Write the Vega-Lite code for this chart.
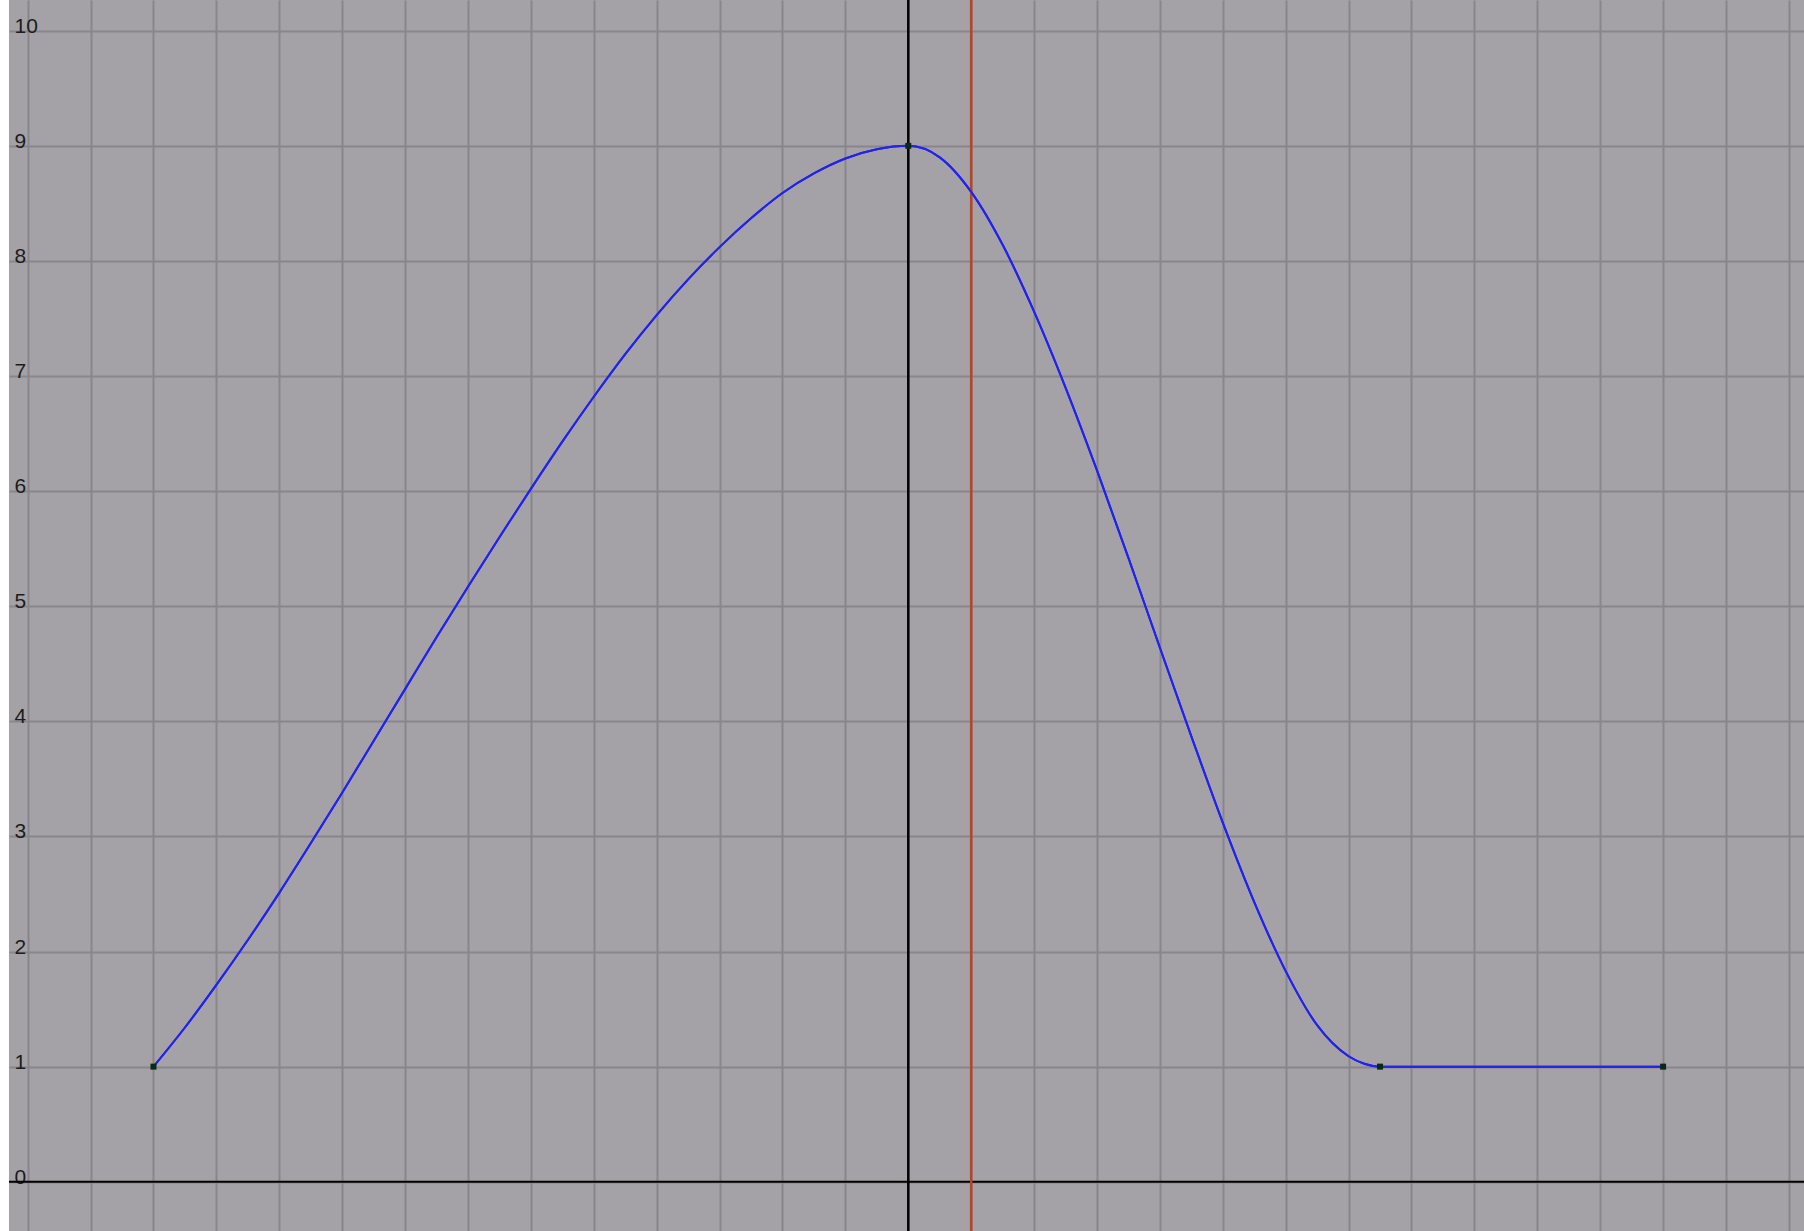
{
  "$schema": "https://vega.github.io/schema/vega-lite/v6.json",
  "width": 1795,
  "height": 1231,
  "autosize": {"type": "none"},
  "padding": {"left": 9, "top": 0, "right": 0, "bottom": 0},
  "background": "#ffffff",
  "config": {
    "view": {"stroke": null, "fill": "#a4a2a6"},
    "axis": {"gridColor": "#88868a", "gridWidth": 2, "gridOpacity": 1}
  },
  "datasets": {
    "curve": [
      {"x": -12, "y": 1}, {"x": -11.5, "y": 1.34}, {"x": -11, "y": 1.71}, {"x": -10.5, "y": 2.1},
      {"x": -10, "y": 2.51}, {"x": -9.5, "y": 2.94}, {"x": -9, "y": 3.38}, {"x": -8.5, "y": 3.83},
      {"x": -8, "y": 4.28}, {"x": -7.5, "y": 4.73}, {"x": -7, "y": 5.17}, {"x": -6.5, "y": 5.6},
      {"x": -6, "y": 6.02}, {"x": -5.5, "y": 6.43}, {"x": -5, "y": 6.82}, {"x": -4.5, "y": 7.19},
      {"x": -4, "y": 7.53}, {"x": -3.5, "y": 7.84}, {"x": -3, "y": 8.12}, {"x": -2.5, "y": 8.37},
      {"x": -2, "y": 8.59}, {"x": -1.5, "y": 8.76}, {"x": -1, "y": 8.89}, {"x": -0.5, "y": 8.97},
      {"x": 0, "y": 9}, {"x": 0.5, "y": 8.9}, {"x": 1, "y": 8.6}, {"x": 1.5, "y": 8.14},
      {"x": 2, "y": 7.56}, {"x": 2.5, "y": 6.9}, {"x": 3, "y": 6.18}, {"x": 3.5, "y": 5.42},
      {"x": 4, "y": 4.64}, {"x": 4.5, "y": 3.87}, {"x": 5, "y": 3.12}, {"x": 5.5, "y": 2.43},
      {"x": 6, "y": 1.83}, {"x": 6.5, "y": 1.36}, {"x": 7, "y": 1.09}, {"x": 7.25, "y": 1.025},
      {"x": 7.5, "y": 1}, {"x": 12, "y": 1}
    ],
    "keys": [
      {"x": -12, "y": 1}, {"x": 0, "y": 9}, {"x": 7.5, "y": 1}, {"x": 12, "y": 1}
    ],
    "vaxes": [
      {"x": 0, "kind": "axis"}, {"x": 1, "kind": "time"}
    ],
    "haxes": [
      {"y": 0}
    ]
  },
  "layer": [
    {
      "data": {"name": "curve"},
      "mark": {"type": "line", "interpolate": "monotone", "color": "#2222ee", "strokeWidth": 2},
      "encoding": {
        "x": {
          "field": "x", "type": "quantitative",
          "scale": {"domain": [-14.297, 14.24], "nice": false, "zero": false},
          "axis": {
            "values": [-14, -13, -12, -11, -10, -9, -8, -7, -6, -5, -4, -3, -2, -1, 0, 1, 2, 3, 4, 5, 6, 7, 8, 9, 10, 11, 12, 13, 14],
            "grid": true, "labels": false, "ticks": false, "domain": false, "title": null
          }
        },
        "y": {
          "field": "y", "type": "quantitative",
          "scale": {"domain": [-0.428, 10.267], "nice": false, "zero": false},
          "axis": {
            "values": [0, 1, 2, 3, 4, 5, 6, 7, 8, 9, 10],
            "format": "d",
            "grid": true, "ticks": false, "domain": false, "title": null,
            "labelAlign": "left", "labelPadding": -5, "labelBaseline": "alphabetic",
            "labelOffset": 1.5, "labelFont": "Liberation Sans", "labelFontSize": 21,
            "labelColor": "#1c1c1c", "labelOverlap": false
          }
        }
      }
    },
    {
      "data": {"name": "haxes"},
      "mark": {"type": "rule", "color": "#000000", "strokeWidth": 2},
      "encoding": {"y": {"field": "y", "type": "quantitative"}}
    },
    {
      "data": {"name": "vaxes"},
      "mark": {"type": "rule", "strokeWidth": 2.5},
      "encoding": {
        "x": {"field": "x", "type": "quantitative"},
        "color": {"field": "kind", "type": "nominal", "scale": {"domain": ["axis", "time"], "range": ["#000000", "#b5452a"]}, "legend": null}
      }
    },
    {
      "data": {"name": "curve"},
      "mark": {"type": "line", "interpolate": "monotone", "color": "#2222ee", "strokeWidth": 2},
      "encoding": {
        "x": {"field": "x", "type": "quantitative"},
        "y": {"field": "y", "type": "quantitative"}
      }
    },
    {
      "data": {"name": "keys"},
      "mark": {"type": "square", "size": 36, "filled": true, "color": "#0b2a13", "opacity": 1},
      "encoding": {
        "x": {"field": "x", "type": "quantitative"},
        "y": {"field": "y", "type": "quantitative"}
      }
    }
  ]
}
